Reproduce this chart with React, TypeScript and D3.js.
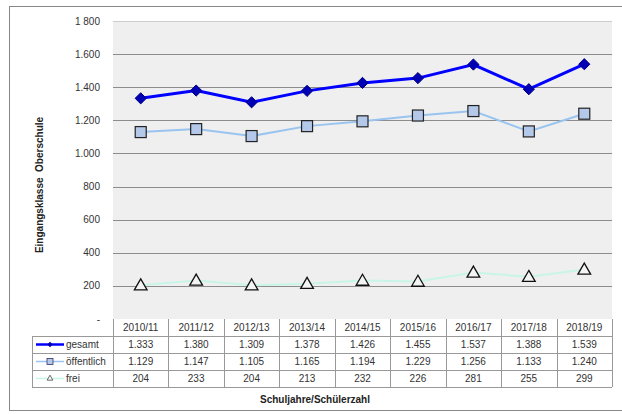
import React, { useRef, useEffect } from "react";
import * as d3 from "d3";

const years = ["2010/11", "2011/12", "2012/13", "2013/14", "2014/15", "2015/16", "2016/17", "2017/18", "2018/19"];
const gesamt = [1333, 1380, 1309, 1378, 1426, 1455, 1537, 1388, 1539];
const oeffentlich = [1129, 1147, 1105, 1165, 1194, 1229, 1256, 1133, 1240];
const frei = [204, 233, 204, 213, 232, 226, 281, 255, 299];
const yTicks = [0, 200, 400, 600, 800, 1000, 1200, 1400, 1600, 1800];
const seriesNames = ["gesamt", "öffentlich", "frei"];

const fmt = (v: number) => (v >= 1000 ? Math.floor(v / 1000) + "." + String(v % 1000).padStart(3, "0") : String(v));
const fmtTick = (v: number) =>
  v === 0 ? "-" : v === 1800 ? "1 800" : fmt(v);

const App: React.FC = () => {
  const ref = useRef<SVGSVGElement>(null);

  useEffect(() => {
    const svg = d3.select(ref.current);
    svg.selectAll("*").remove();

    const width = 622,
      height = 414;
    const plot = { left: 113, right: 612, top: 21, bottom: 319 };
    const font = "Arial, 'Liberation Sans', sans-serif";

    svg.append("rect").attr("width", width).attr("height", height).attr("fill", "#fff");
    // outer frame
    svg
      .append("rect")
      .attr("x", 9.5)
      .attr("y", 6.5)
      .attr("width", 640)
      .attr("height", 404)
      .attr("fill", "none")
      .attr("stroke", "#888");

    const x = d3.scaleBand<string>().domain(years).range([plot.left, plot.right]);
    const y = d3.scaleLinear().domain([0, 1800]).range([plot.bottom, plot.top]);
    const cx = (i: number) => x(years[i])! + x.bandwidth() / 2;

    // plot background
    svg
      .append("rect")
      .attr("x", plot.left)
      .attr("y", plot.top)
      .attr("width", plot.right - plot.left)
      .attr("height", plot.bottom - plot.top)
      .attr("fill", "#efefef");

    // gridlines
    svg
      .append("g")
      .selectAll("line")
      .data(yTicks.filter((t) => t > 0))
      .enter()
      .append("line")
      .attr("x1", plot.left)
      .attr("x2", plot.right)
      .attr("y1", (d) => Math.round(y(d)) + 0.5)
      .attr("y2", (d) => Math.round(y(d)) + 0.5)
      .attr("stroke", (d) => (d === 1800 ? "#ccc" : "#8c8c8c"))
      .attr("stroke-width", 1);

    // y tick labels
    svg
      .append("g")
      .selectAll("text")
      .data(yTicks)
      .enter()
      .append("text")
      .attr("x", 100)
      .attr("y", (d) => y(d) + 3.5)
      .attr("text-anchor", "end")
      .style("font-family", font)
      .style("font-size", "10px")
      .attr("fill", "#333")
      .text((d) => fmtTick(d));

    // y axis title
    svg
      .append("text")
      .attr("transform", `translate(43,${(plot.top + plot.bottom) / 2 + 15}) rotate(-90)`)
      .attr("text-anchor", "middle")
      .style("font-family", font)
      .style("font-size", "10px")
      .style("font-weight", "bold")
      .attr("fill", "#222")
      .attr("xml:space", "preserve")
      .text("Eingangsklasse  Oberschule");

    const line = d3
      .line<number>()
      .x((_, i) => cx(i))
      .y((d) => y(d));

    // frei
    svg
      .append("path")
      .datum(frei)
      .attr("fill", "none")
      .attr("stroke", "#c8f5e8")
      .attr("stroke-width", 2)
      .attr("d", line);
    svg
      .append("g")
      .selectAll("path")
      .data(frei)
      .enter()
      .append("path")
      .attr("d", d3.symbol().type(d3.symbolTriangle).size(70)())
      .attr("transform", (d, i) => `translate(${cx(i)},${y(d) + 1})`)
      .attr("fill", "#f4f4f4")
      .attr("stroke", "#111")
      .attr("stroke-width", 1.3);

    // öffentlich
    svg
      .append("path")
      .datum(oeffentlich)
      .attr("fill", "none")
      .attr("stroke", "#99c4f0")
      .attr("stroke-width", 2)
      .attr("d", line);
    svg
      .append("g")
      .selectAll("rect")
      .data(oeffentlich)
      .enter()
      .append("rect")
      .attr("x", (_, i) => cx(i) - 5.5)
      .attr("y", (d) => y(d) - 5.5)
      .attr("width", 11)
      .attr("height", 11)
      .attr("fill", "#b4c8ea")
      .attr("stroke", "#222")
      .attr("stroke-width", 1.2);

    // gesamt
    svg
      .append("path")
      .datum(gesamt)
      .attr("fill", "none")
      .attr("stroke", "#0000ff")
      .attr("stroke-width", 3)
      .attr("d", line);
    svg
      .append("g")
      .selectAll("path")
      .data(gesamt)
      .enter()
      .append("path")
      .attr("d", d3.symbol().type(d3.symbolDiamond2).size(80)())
      .attr("transform", (d, i) => `translate(${cx(i)},${y(d)})`)
      .attr("fill", "#0000b4")
      .attr("stroke", "#000080")
      .attr("stroke-width", 1);

    // data table
    const rowH = 17;
    const tTop = plot.bottom;
    const legendLeft = 32;
    const tg = svg.append("g");
    const textStyle = (sel: d3.Selection<SVGTextElement, unknown, null, undefined>) =>
      sel.style("font-family", font).style("font-size", "10px").attr("fill", "#333");

    // header row
    years.forEach((yr, i) => {
      tg.append("text")
        .attr("x", cx(i))
        .attr("y", tTop + 12)
        .attr("text-anchor", "middle")
        .call(textStyle)
        .text(yr);
    });
    const rows = [gesamt, oeffentlich, frei];
    rows.forEach((vals, r) => {
      const ry = tTop + rowH * (r + 1);
      vals.forEach((v, i) => {
        tg.append("text")
          .attr("x", cx(i))
          .attr("y", ry + 12)
          .attr("text-anchor", "middle")
          .call(textStyle)
          .text(fmt(v));
      });
      tg.append("text")
        .attr("x", legendLeft + 34)
        .attr("y", ry + 12)
        .call(textStyle)
        .text(seriesNames[r]);
    });
    // legend keys
    const k1 = tTop + rowH * 1.5;
    tg.append("line").attr("x1", 36).attr("x2", 64).attr("y1", k1).attr("y2", k1).attr("stroke", "#0000ff").attr("stroke-width", 2.5);
    tg.append("path").attr("d", d3.symbol().type(d3.symbolDiamond2).size(20)()).attr("transform", `translate(50,${k1})`).attr("fill", "#0000b4");
    const k2 = tTop + rowH * 2.5;
    tg.append("line").attr("x1", 36).attr("x2", 64).attr("y1", k2).attr("y2", k2).attr("stroke", "#99c4f0").attr("stroke-width", 1.5);
    tg.append("rect").attr("x", 47).attr("y", k2 - 3).attr("width", 6).attr("height", 6).attr("fill", "#b4c8ea").attr("stroke", "#336").attr("stroke-width", 0.8);
    const k3 = tTop + rowH * 3.5;
    tg.append("line").attr("x1", 36).attr("x2", 64).attr("y1", k3).attr("y2", k3).attr("stroke", "#c8f5e8").attr("stroke-width", 1.5);
    tg.append("path").attr("d", d3.symbol().type(d3.symbolTriangle).size(14)()).attr("transform", `translate(50,${k3})`).attr("fill", "#fff").attr("stroke", "#444").attr("stroke-width", 0.8);

    // table grid
    const gridColor = "#999";
    [1, 2, 3, 4].forEach((r) => {
      const yy = tTop + rowH * r + 0.5;
      tg.append("line").attr("x1", legendLeft).attr("x2", plot.right).attr("y1", yy).attr("y2", yy).attr("stroke", gridColor);
    });
    tg.append("line").attr("x1", legendLeft + 0.5).attr("x2", legendLeft + 0.5).attr("y1", tTop + rowH).attr("y2", tTop + rowH * 4).attr("stroke", gridColor);
    years.forEach((yr) => {
      const xx = Math.round(x(yr)!) + 0.5;
      tg.append("line").attr("x1", xx).attr("x2", xx).attr("y1", tTop).attr("y2", tTop + rowH * 4).attr("stroke", gridColor);
    });
    tg.append("line").attr("x1", plot.right + 0.5).attr("x2", plot.right + 0.5).attr("y1", tTop).attr("y2", tTop + rowH * 4).attr("stroke", gridColor);

    // x axis title
    svg
      .append("text")
      .attr("x", 315)
      .attr("y", 403)
      .attr("text-anchor", "middle")
      .style("font-family", font)
      .style("font-size", "10px")
      .style("font-weight", "bold")
      .attr("fill", "#222")
      .text("Schuljahre/Schülerzahl");
  }, []);

  return (
    <div style={{ position: "absolute", left: 0, top: 0 }}>
      <svg ref={ref} width={622} height={414} style={{ display: "block" }} />
    </div>
  );
};

export default App;
